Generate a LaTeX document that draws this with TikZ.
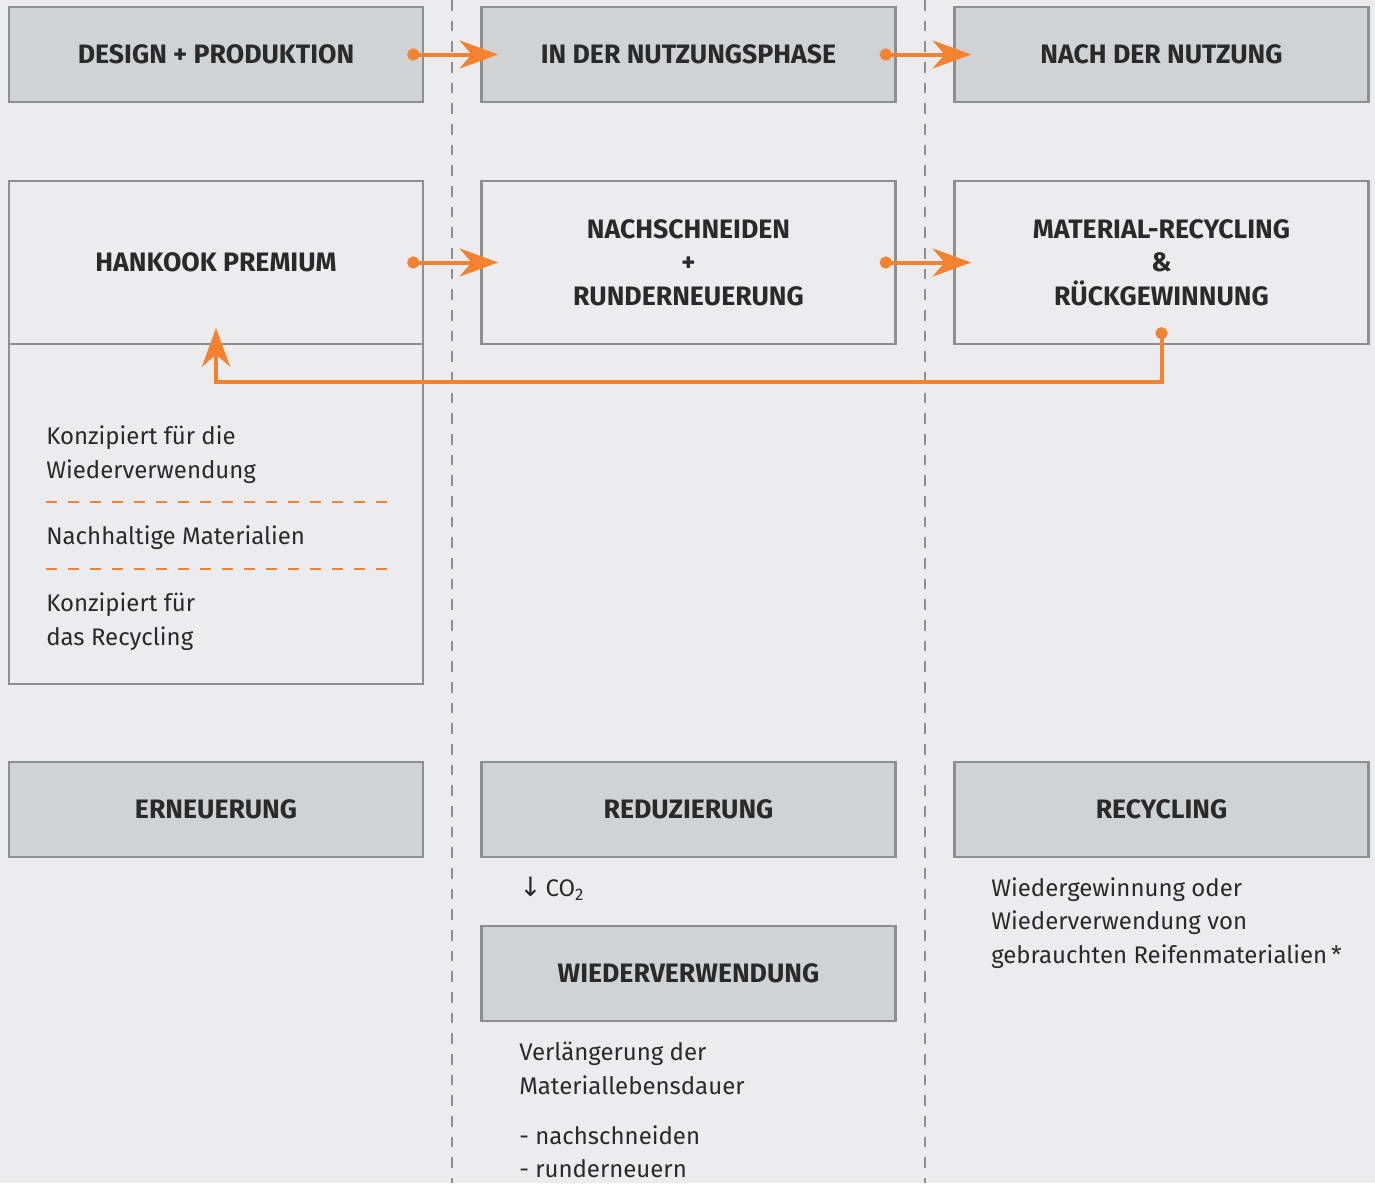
\documentclass[tikz,border=0pt]{standalone}
\usepackage{fontspec}
\setmainfont{Fira Sans}
\newfontfamily\symfont{DejaVu Sans}
\usetikzlibrary{arrows.meta}
\definecolor{bgc}{HTML}{ECECEE}
\definecolor{boxfill}{HTML}{D1D2D4}
\definecolor{boxline}{HTML}{8E8E8E}
\definecolor{orng}{HTML}{F58230}
\definecolor{txt}{HTML}{2A2A2A}
\tikzset{
  graybox/.style={draw=boxline, line width=1.9pt, fill=boxfill, minimum width=310.5pt, minimum height=71.25pt, inner sep=0pt, align=center, font=\fontsize{20}{25}\selectfont\bfseries, text=txt},
  lightbox/.style={draw=boxline, line width=1.9pt, fill=bgc, minimum width=310.5pt, minimum height=122.25pt, inner sep=0pt, align=center, font=\fontsize{20}{25}\selectfont\bfseries, text=txt},
  body/.style={anchor=north west, align=left, inner sep=0pt, font=\fontsize{18}{25.2}\selectfont, text=txt},
  flow/.style={draw=orng, line width=3pt, {Circle[length=9pt]}-{Stealth[length=29pt,width=21pt,inset=9pt]}},
  vdash/.style={draw=boxline, line width=1.5pt, dash pattern=on 8pt off 7.5pt},
  odash/.style={draw=orng, line width=2pt, dash pattern=on 8.25pt off 8.25pt},
}
\begin{document}
\begin{tikzpicture}[x=0.75pt,y=-0.75pt]
\useasboundingbox[fill=bgc] (0,0) rectangle (1375,1183);
% dashed separators
\draw[vdash] (452,0) -- (452,1183);
\draw[vdash] (925,0) -- (925,1183);
% top row
\node[graybox] (a1) at (216,54.5) {DESIGN + PRODUKTION};
\node[graybox] (a2) at (688.5,54.5) {IN DER NUTZUNGSPHASE};
\node[graybox] (a3) at (1161.5,54.5) {NACH DER NUTZUNG};
% second row
\node[draw=boxline, line width=1.9pt, fill=bgc, minimum width=310.5pt, minimum height=255pt, inner sep=0pt] (hlow) at (216,514) {};
\node[lightbox] (b1) at (216,262.5) {HANKOOK PREMIUM};
\node[lightbox] (b2) at (688.5,262.5) {NACHSCHNEIDEN\\+\\RUNDERNEUERUNG};
\node[lightbox] (b3) at (1161.5,262.5) {MATERIAL-RECYCLING\\\&\\RÜCKGEWINNUNG};
% arrows
\draw[flow] ([xshift=-12.75pt]a1.east) -- ([xshift=13.5pt]a2.west);
\draw[flow] ([xshift=-12.75pt]a2.east) -- ([xshift=13.5pt]a3.west);
\draw[flow] ([xshift=-12.75pt]b1.east) -- ([xshift=13.5pt]b2.west);
\draw[flow] ([xshift=-12.75pt]b2.east) -- ([xshift=13.5pt]b3.west);
\coordinate (ret) at (1161.5,382);
\draw[flow] ([yshift=13.5pt]b3.south) -- (ret) -| ([yshift=13pt]b1.south);
% left texts
\node[body] (t1) at (46,426) {Konzipiert für die\\Wiederverwendung};
\draw[odash] (46,502) -- (387,502);
\node[body] (t2) at (46,526) {Nachhaltige Materialien};
\draw[odash] (46,569) -- (387,569);
\node[body] (t3) at (46,593) {Konzipiert für\\das Recycling};
% bottom row
\node[graybox] (c1) at (216,809.5) {ERNEUERUNG};
\node[graybox] (c2) at (688.5,809.5) {REDUZIERUNG};
\node[graybox] (c3) at (1161.5,809.5) {RECYCLING};
\node[body] (co2) at (519,877) {{\symfont\fontsize{20}{25}\selectfont ↓}\,CO\textsubscript{2}};
\node[graybox] (d2) at (688.5,973.5) {WIEDERVERWENDUNG};
\node[body] (t4) at (519,1042) {Verlängerung der\\Materiallebensdauer};
\node[body] (t5) at (519,1125) {- nachschneiden\\- runderneuern};
\node[body] (t6) at (991,877) {Wiedergewinnung oder\\Wiederverwendung von\\gebrauchten Reifenmaterialien\,*};
\end{tikzpicture}
\end{document}
